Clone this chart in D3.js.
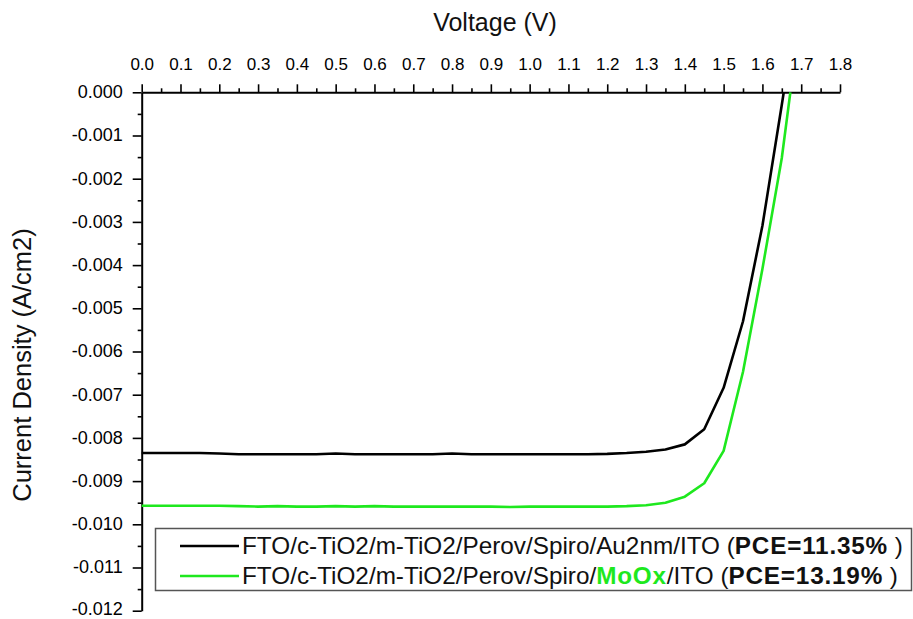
<!DOCTYPE html>
<html>
<head>
<meta charset="utf-8">
<script src="https://cdn.jsdelivr.net/npm/d3@7"></script>
<style>
  body { margin: 0; background: #fff; }
  svg { display: block; font-family: "Liberation Sans", Arial, sans-serif; }
</style>
</head>
<body>
<div id="chart"></div>
<script>
const xTicks = [0, 0.1, 0.2, 0.3, 0.4, 0.5, 0.6, 0.7, 0.8, 0.9, 1.0, 1.1, 1.2, 1.3, 1.4, 1.5, 1.6, 1.7, 1.8];
const yTicks = [0, -0.001, -0.002, -0.003, -0.004, -0.005, -0.006, -0.007, -0.008, -0.009, -0.010, -0.011, -0.012];

const blackV = [0, 0.05, 0.1, 0.15, 0.2, 0.25, 0.3, 0.35, 0.4, 0.45, 0.5, 0.55, 0.6, 0.65, 0.7, 0.75, 0.8, 0.85,
  0.9, 0.95, 1.0, 1.05, 1.1, 1.15, 1.2, 1.25, 1.3, 1.35, 1.4, 1.45, 1.5, 1.55, 1.6, 1.65, 1.655];
const blackJ = [-0.00835, -0.00835, -0.00835, -0.00835, -0.00836, -0.00838, -0.00838, -0.00838, -0.00838, -0.00838,
  -0.00836, -0.00838, -0.00838, -0.00838, -0.00838, -0.00838, -0.00836, -0.00838, -0.00838, -0.00838,
  -0.00838, -0.00838, -0.00838, -0.00838, -0.00837, -0.00835, -0.00832, -0.00827, -0.00815, -0.0078,
  -0.00684, -0.0053, -0.00309, -0.00029, 0];

const greenV = [0, 0.05, 0.1, 0.15, 0.2, 0.25, 0.3, 0.35, 0.4, 0.45, 0.5, 0.55, 0.6, 0.65, 0.7, 0.75, 0.8, 0.85,
  0.9, 0.95, 1.0, 1.05, 1.1, 1.15, 1.2, 1.25, 1.3, 1.35, 1.4, 1.45, 1.5, 1.55, 1.6, 1.65, 1.672];
const greenJ = [-0.00957, -0.00957, -0.00957, -0.00957, -0.00957, -0.00958, -0.00959, -0.00958, -0.00959, -0.00959,
  -0.00958, -0.00959, -0.00958, -0.00959, -0.00959, -0.00959, -0.00959, -0.00959, -0.00959, -0.0096,
  -0.00959, -0.00959, -0.00959, -0.00959, -0.00959, -0.00958, -0.00956, -0.0095, -0.00936, -0.00905,
  -0.0083, -0.00647, -0.00409, -0.00152, 0];

const seriesNames = ["FTO/c-TiO2/m-TiO2/Perov/Spiro/Au2nm/ITO", "FTO/c-TiO2/m-TiO2/Perov/Spiro/MoOx/ITO"];
const pceLabels = ["PCE=11.35%", "PCE=13.19%"];
const colors = ["#000000", "#1ee81e"];

const width = 913, height = 619;
const marginLeft = 141.7, plotRight = 840, plotTop = 92.3, plotBottom = 610.7;

const x = d3.scaleLinear().domain([0, 1.8]).range([marginLeft, plotRight]);
const y = d3.scaleLinear().domain([0, -0.012]).range([plotTop, plotBottom]);

const svg = d3.select("#chart").append("svg")
  .attr("width", width)
  .attr("height", height)
  .attr("viewBox", [0, 0, width, height]);

// minor ticks
const xMinor = d3.range(0.05, 1.8, 0.1);
const yMinor = d3.range(-0.0005, -0.012, -0.001);
svg.append("g")
  .attr("transform", `translate(0,${plotTop})`)
  .call(d3.axisTop(x).tickValues(xMinor).tickSize(4).tickSizeOuter(0).tickFormat(""))
  .call(g => g.select(".domain").remove())
  .call(g => g.selectAll(".tick line").attr("stroke-width", 1.6));
svg.append("g")
  .attr("transform", `translate(${marginLeft},0)`)
  .call(d3.axisLeft(y).tickValues(yMinor).tickSize(4).tickSizeOuter(0).tickFormat(""))
  .call(g => g.select(".domain").remove())
  .call(g => g.selectAll(".tick line").attr("stroke-width", 1.6));

// x axis (top)
svg.append("g")
  .attr("transform", `translate(0,${plotTop})`)
  .call(d3.axisTop(x).tickValues(xTicks).tickSize(8).tickSizeOuter(0).tickPadding(14)
    .tickFormat(d3.format(".1f")))
  .call(g => g.select(".domain").attr("stroke-width", 2))
  .call(g => g.selectAll(".tick line").attr("stroke-width", 1.6))
  .call(g => g.selectAll(".tick text").attr("font-size", 17).attr("fill", "#000")
    .attr("font-family", "Liberation Sans, Arial, sans-serif"));

// y axis (left)
svg.append("g")
  .attr("transform", `translate(${marginLeft},0)`)
  .call(d3.axisLeft(y).tickValues(yTicks).tickSize(9).tickSizeOuter(0).tickPadding(10)
    .tickFormat(d3.format(".3f")))
  .call(g => g.select(".domain").attr("stroke-width", 2))
  .call(g => g.selectAll(".tick line").attr("stroke-width", 1.6))
  .call(g => g.selectAll(".tick text").attr("font-size", 18).attr("fill", "#000")
    .attr("font-family", "Liberation Sans, Arial, sans-serif")
    .attr("dy", d => d === -0.012 ? "0.2em" : "0.3em")
    .text(d => d3.format(".3f")(d).replace("−", "-")));

// axis titles
svg.append("text")
  .attr("x", 495)
  .attr("y", 31)
  .attr("text-anchor", "middle")
  .attr("font-size", 25)
  .attr("fill", "#111")
  .text("Voltage (V)");
svg.append("text")
  .attr("transform", `translate(31,365) rotate(-90)`)
  .attr("text-anchor", "middle")
  .attr("font-size", 25.5)
  .attr("fill", "#111")
  .text("Current Density (A/cm2)");

// curves
const line = d3.line().x(d => x(d[0])).y(d => y(d[1]));
const curves = [d3.zip(blackV, blackJ), d3.zip(greenV, greenJ)];
curves.forEach((pts, i) => {
  svg.append("path")
    .datum(pts)
    .attr("fill", "none")
    .attr("stroke", colors[i])
    .attr("stroke-width", 2.6)
    .attr("stroke-linejoin", "round")
    .attr("d", line);
});

// legend
const legend = svg.append("g");
legend.append("rect")
  .attr("x", 155.5)
  .attr("y", 528.5)
  .attr("width", 756)
  .attr("height", 62)
  .attr("fill", "#fff")
  .attr("stroke", "#555")
  .attr("stroke-width", 1.5);

seriesNames.forEach((name, i) => {
  const yy = 546 + i * 30;
  legend.append("line")
    .attr("x1", 180).attr("x2", 239)
    .attr("y1", yy).attr("y2", yy)
    .attr("stroke", colors[i])
    .attr("stroke-width", 2.6);
  const t = legend.append("text")
    .attr("x", 242)
    .attr("y", yy + 8)
    .attr("font-size", 24.3)
    .attr("fill", "#111");
  if (name.includes("MoOx")) {
    const parts = name.split("MoOx");
    t.append("tspan").text(parts[0]);
    t.append("tspan").attr("font-weight", "bold").attr("letter-spacing", 0.8).attr("fill", colors[1]).text("MoOx");
    t.append("tspan").text(parts[1] + " (");
  } else {
    t.append("tspan").text(name + " (");
  }
  t.append("tspan").attr("font-weight", "bold").attr("letter-spacing", 0.8).text(pceLabels[i]);
  t.append("tspan").text(" )");
});
</script>
</body>
</html>
